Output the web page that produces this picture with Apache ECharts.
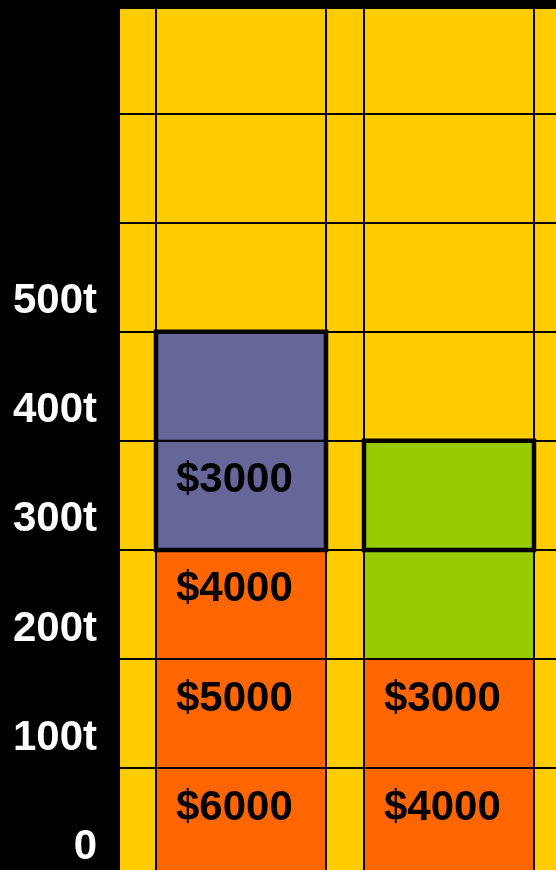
<!DOCTYPE html>
<html>
<head>
<meta charset="utf-8">
<script src="https://cdn.jsdelivr.net/npm/echarts@6/dist/echarts.min.js"></script>
<style>
  html, body { margin: 0; padding: 0; background: #000; }
  #chart { width: 556px; height: 870px; }
</style>
</head>
<body>
<div id="chart"></div>
<script>
// tonnage bands (lower edge of each 100t step)
var bandBase = [0, 100, 200, 300, 400];
var bandSize = 100;
var lastLabel = 500;

// horizontal extent of each column on the x scale
var colStart = [3.6, 24.4];
var colEnd = [20.6, 41.4];
var xMax = 43.6;

// per column: colour of each band and its cost label
var colAColors = ['orange', 'orange', 'orange', 'purple', 'purple'];
var colALabels = ['$6000', '$5000', '$4000', '$3000', ''];
var colBColors = ['orange', 'orange', 'green', 'green'];
var colBLabels = ['$4000', '$3000', '', ''];

// thick outlined boxes: [column, from t, to t]
var boxes = [[0, 300, 500], [1, 300, 400]];

var palette = { orange: '#FF6600', purple: '#666699', green: '#99CC00' };

var cells = [];
[[colAColors, colALabels], [colBColors, colBLabels]].forEach(function (col, c) {
  col[0].forEach(function (name, i) {
    cells.push([colStart[c], colEnd[c], bandBase[i], bandBase[i] + bandSize, name, col[1][i]]);
  });
});
var boxData = boxes.map(function (b) { return [colStart[b[0]], colEnd[b[0]], b[1], b[2]]; });

var chart = echarts.init(document.getElementById('chart'), null, { renderer: 'canvas' });

var font = 'Arial, "Liberation Sans", sans-serif';

chart.setOption({
  backgroundColor: '#000',
  animation: false,
  grid: {
    left: 120, right: 0, top: 8, bottom: -7,
    outerBoundsMode: 'none',
    containLabel: false,
    show: true, backgroundColor: '#FFCC00', borderWidth: 0
  },
  xAxis: {
    type: 'value', min: 0, max: xMax,
    show: false
  },
  yAxis: {
    type: 'value', min: 0, max: 797, interval: 100,
    axisLine: { show: false },
    axisTick: { show: false },
    splitLine: { show: true, lineStyle: { color: '#000', width: 2 } },
    axisLabel: {
      showMaxLabel: false,
      color: '#fff', fontWeight: 'bold', fontSize: 42, fontFamily: font,
      margin: 23,
      verticalAlign: 'bottom',
      lineHeight: 60,
      formatter: function (v) {
        if (v > lastLabel) return '';
        return v === 0 ? '0' : v + 't';
      }
    }
  },
  series: [
    {
      type: 'custom',
      data: cells,
      z: 2,
      renderItem: function (params, api) {
        var p0 = api.coord([api.value(0), api.value(3)]);
        var p1 = api.coord([api.value(1), api.value(2)]);
        var d = cells[params.dataIndex];
        var children = [{
          type: 'rect',
          shape: { x: p0[0], y: p0[1], width: p1[0] - p0[0], height: p1[1] - p0[1] },
          style: { fill: palette[d[4]], stroke: '#000', lineWidth: 2 }
        }];
        if (d[5]) {
          children.push({
            type: 'text',
            style: {
              text: d[5], x: p0[0] + 20, y: p0[1] + 40,
              fill: '#000', font: 'bold 42px ' + font,
              align: 'left', verticalAlign: 'middle'
            }
          });
        }
        return { type: 'group', children: children };
      },
      markLine: {
        silent: true,
        symbol: 'none',
        label: { show: false },
        lineStyle: { color: '#000', width: 2, type: 'solid' },
        data: colStart.concat(colEnd).map(function (x) { return { xAxis: x }; })
      }
    },
    {
      type: 'custom',
      data: boxData,
      z: 5,
      renderItem: function (params, api) {
        var p0 = api.coord([api.value(0), api.value(3)]);
        var p1 = api.coord([api.value(1), api.value(2)]);
        return {
          type: 'rect',
          shape: { x: p0[0], y: p0[1], width: p1[0] - p0[0], height: p1[1] - p0[1] },
          style: { fill: 'none', stroke: '#000', lineWidth: 4.5 }
        };
      }
    }
  ]
});
</script>
</body>
</html>
